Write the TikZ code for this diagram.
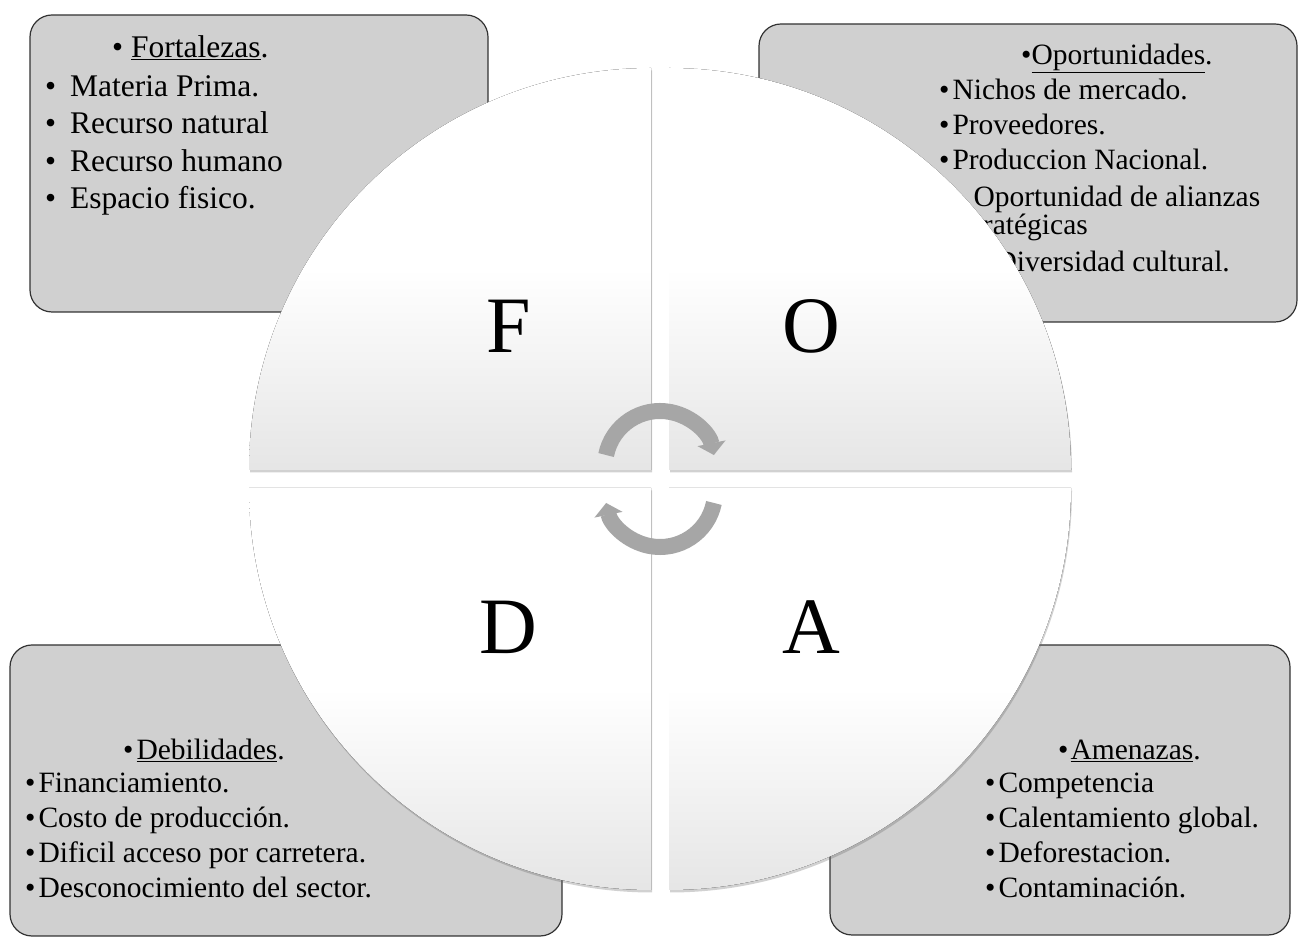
\documentclass[tikz,border=0pt]{standalone}
\usepackage{fontspec}
\setmainfont{Liberation Serif}
\usetikzlibrary{arrows.meta,shadows}
\definecolor{cajagris}{RGB}{208,208,208}
\definecolor{flechagris}{RGB}{166,166,166}
\tikzstyle{caja}=[draw=black!80, line width=1.2pt, fill=cajagris, rounded corners=22pt, inner sep=0pt]
\tikzstyle{cuadrante}=[top color=white, bottom color=gray!20, middle color=white,
    drop shadow={shadow xshift=1pt, shadow yshift=-2.5pt, opacity=0.3, fill=black!60}]
\tikzstyle{linea}=[anchor=base west, inner sep=0pt, font=\fontsize{29.5}{35}\selectfont]
\tikzstyle{lineaF}=[linea, font=\fontsize{31.5}{38}\selectfont]
\tikzstyle{letra}=[anchor=base, inner sep=0pt, font=\fontsize{80}{96}\selectfont]
\tikzstyle{flecha}=[draw=flechagris, line width=16pt, -{Triangle[length=12pt,width=28pt]}]
\newcommand{\linea}{\node[linea]}

\begin{document}
\begin{tikzpicture}[x=1pt, y=1pt]
\useasboundingbox (0,0) rectangle (1299,937);
\node[caja, minimum width=458, minimum height=297] (cajaF) at (259,773.5) {};
\node[caja, minimum width=538, minimum height=298] (cajaO) at (1028,764) {};
\node[caja, minimum width=552, minimum height=291] (cajaD) at (286,146.5) {};
\node[caja, minimum width=460, minimum height=290] (cajaA) at (1060,147) {};
\node[lineaF] (tituloF) at (112,879) {\textbullet\ \underline{Fortalezas}.};
\node[lineaF] (f1) at (45,840) {\textbullet\hspace{14pt}Materia Prima.};
\node[lineaF] (f2) at (45,803) {\textbullet\hspace{14pt}Recurso natural};
\node[lineaF] (f3) at (45,765) {\textbullet\hspace{14pt}Recurso humano};
\node[lineaF] (f4) at (45,728) {\textbullet\hspace{14pt}Espacio fisico.};
\linea (tituloO) at (1021,872) {\textbullet\underline{Oportunidades}.};
\linea (o1) at (939,837) {\textbullet\hspace{3pt}Nichos de mercado.};
\linea (o2) at (939,802) {\textbullet\hspace{3pt}Proveedores.};
\linea (o3) at (939,767) {\textbullet\hspace{3pt}Produccion Nacional.};
\linea (o4) at (939,730) {\textbullet\hspace{24pt}Oportunidad de alianzas};
\linea (o5) at (950,702) {estratégicas};
\linea (o6) at (939,665) {\textbullet\hspace{46pt}Diversidad cultural.};
\linea (tituloD) at (123,177) {\textbullet\hspace{3pt}\underline{Debilidades}.};
\linea (d1) at (25,144) {\textbullet\hspace{3pt}Financiamiento.};
\linea (d2) at (25,109) {\textbullet\hspace{3pt}Costo de producción.};
\linea (d3) at (25,74) {\textbullet\hspace{3pt}Dificil acceso por carretera.};
\linea (d4) at (25,39) {\textbullet\hspace{3pt}Desconocimiento del sector.};
\linea (tituloA) at (1058,177) {\textbullet\hspace{2pt}\underline{Amenazas}.};
\linea (a1) at (985,144) {\textbullet\hspace{3pt}Competencia};
\linea (a2) at (985,109) {\textbullet\hspace{3pt}Calentamiento global.};
\linea (a3) at (985,74) {\textbullet\hspace{3pt}Deforestacion.};
\linea (a4) at (985,39) {\textbullet\hspace{3pt}Contaminación.};
\fill[cuadrante] (651,467) -- (249,467) arc[start angle=180, end angle=90, radius=402] -- cycle;
\fill[cuadrante] (669,467) -- (669,869) arc[start angle=90, end angle=0, radius=402] -- cycle;
\fill[cuadrante] (651,449) -- (651,47) arc[start angle=270, end angle=180, radius=402] -- cycle;
\fill[cuadrante] (669,449) -- (1071,449) arc[start angle=0, end angle=-90, radius=402] -- cycle;
\node[letra] (letraF) at (509,584) {F};
\node[letra] (letraO) at (811,584) {O};
\node[letra] (letraD) at (508,283) {D};
\node[letra] (letraA) at (811,283) {A};
\coordinate (giroA) at (660,471);
\coordinate (giroB) at (660,445);
\draw[flecha] ([shift={(168.5:55)}]giroA) arc[start angle=168.5, end angle=11.5, radius=55];
\draw[flecha] ([shift={(-11.5:55)}]giroB) arc[start angle=-11.5, end angle=-168.5, radius=55];
\end{tikzpicture}
\end{document}
